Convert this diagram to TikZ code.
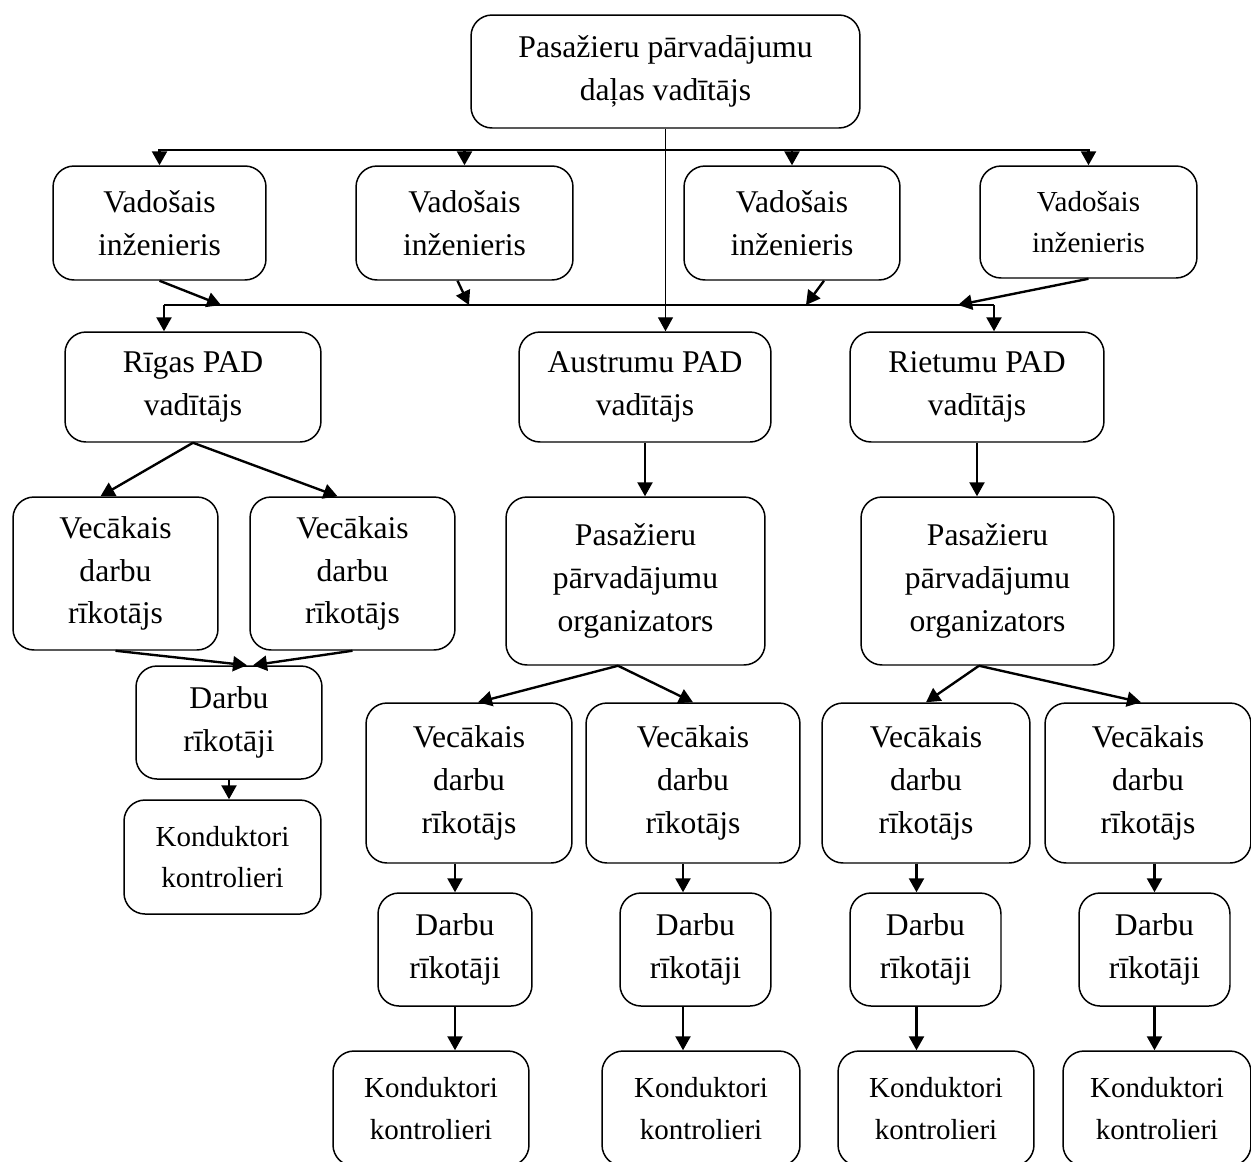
\documentclass[tikz,border=0pt]{standalone}
\usepackage{fontspec}
\setmainfont{Liberation Serif}
\usetikzlibrary{arrows.meta,positioning,calc}

\begin{document}
\begin{tikzpicture}[x=0.02cm,y=-0.02cm,
  every node/.style={draw,rounded corners=0.42cm,line width=0.85pt,align=center,inner sep=0pt,font=\fontsize{18}{24.4}\selectfont},
  smalltext/.style={font=\fontsize{16.5}{23.5}\selectfont},
  arr/.style={-{Triangle[length=0.28cm,width=0.3cm]},line width=1.35pt},
  thinarr/.style={arr,line width=0.8pt}]
  \path[use as bounding box] (0,0) rectangle (1251,1161);
  \clip (0,0) rectangle (1251,1161);
  % Head of the department
  \node[minimum width=7.78cm,minimum height=2.26cm] (head) at (665.5,71.5) {Pasažieru pārvadājumu\\daļas vadītājs};
  % Leading engineers
  \node[minimum width=4.26cm,minimum height=2.28cm] (eng1) at (159.5,223) {Vadošais\\inženieris};
  \node[minimum width=4.34cm,minimum height=2.28cm] (eng2) at (464.5,223) {Vadošais\\inženieris};
  \node[minimum width=4.32cm,minimum height=2.28cm] (eng3) at (792,223) {Vadošais\\inženieris};
  \node[smalltext,minimum width=4.34cm,minimum height=2.24cm] (eng4) at (1088.5,222) {Vadošais\\inženieris};
  % Regional heads
  \node[minimum width=5.12cm,minimum height=2.2cm] (riga) at (193,387) {Rīgas PAD\\vadītājs};
  \node[minimum width=5.04cm,minimum height=2.2cm] (east) at (645,387) {Austrumu PAD\\vadītājs};
  \node[minimum width=5.08cm,minimum height=2.2cm] (west) at (977,387) {Rietumu PAD\\vadītājs};
  % Riga branch
  \node[minimum width=4.1cm,minimum height=3.06cm] (rsen1) at (115.5,573.5) {Vecākais\\darbu\\rīkotājs};
  \node[minimum width=4.1cm,minimum height=3.06cm] (rsen2) at (352.5,573.5) {Vecākais\\darbu\\rīkotājs};
  \node[minimum width=3.72cm,minimum height=2.26cm] (rwork) at (229,722.5) {Darbu\\rīkotāji};
  \node[smalltext,minimum width=3.94cm,minimum height=2.28cm] (rcond) at (222.5,857) {Konduktori\\kontrolieri};
  % East and west organizers
  \node[minimum width=5.18cm,minimum height=3.36cm] (eorg) at (635.5,581) {Pasažieru\\pārvadājumu\\organizators};
  \node[minimum width=5.06cm,minimum height=3.36cm] (worg) at (987.5,581) {Pasažieru\\pārvadājumu\\organizators};
  % Senior work managers
  \node[minimum width=4.12cm,minimum height=3.2cm] (esen1) at (469,783) {Vecākais\\darbu\\rīkotājs};
  \node[minimum width=4.28cm,minimum height=3.2cm] (esen2) at (693,783) {Vecākais\\darbu\\rīkotājs};
  \node[minimum width=4.16cm,minimum height=3.2cm] (wsen1) at (926,783) {Vecākais\\darbu\\rīkotājs};
  \node[minimum width=4.12cm,minimum height=3.2cm] (wsen2) at (1148,783) {Vecākais\\darbu\\rīkotājs};
  % Work managers
  \node[minimum width=3.08cm,minimum height=2.26cm] (ework1) at (455,949.5) {Darbu\\rīkotāji};
  \node[minimum width=3.02cm,minimum height=2.26cm] (ework2) at (695.5,949.5) {Darbu\\rīkotāji};
  \node[minimum width=3.02cm,minimum height=2.26cm] (wwork1) at (925.5,949.5) {Darbu\\rīkotāji};
  \node[minimum width=3.02cm,minimum height=2.26cm] (wwork2) at (1154.5,949.5) {Darbu\\rīkotāji};
  % Conductors
  \node[smalltext,minimum width=3.92cm,minimum height=2.3cm] (econd1) at (431,1108.5) {Konduktori\\kontrolieri};
  \node[smalltext,minimum width=3.96cm,minimum height=2.3cm] (econd2) at (701,1108.5) {Konduktori\\kontrolieri};
  \node[smalltext,minimum width=3.92cm,minimum height=2.3cm] (wcond1) at (936,1108.5) {Konduktori\\kontrolieri};
  \node[smalltext,minimum width=3.76cm,minimum height=2.3cm] (wcond2) at (1157,1108.5) {Konduktori\\kontrolieri};

  % Bus lines
  \coordinate (bus1) at (665.5,150);
  \coordinate (bus2w) at (164,305);
  \coordinate (bus2e) at (994,305);
  \draw[thinarr] (head.south) -- (head.south |- east.north);
  \draw[arr] (bus1) -| (eng1.north);
  \draw[arr] (bus1) -| (eng4.north);
  \draw[arr] (eng2.north |- bus1) -- (eng2.north);
  \draw[arr] (eng3.north |- bus1) -- (eng3.north);
  \draw[line width=1.35pt] (bus2w) -- (bus2e);
  \draw[arr] (bus2w) -- (bus2w |- riga.north);
  \draw[arr] (bus2e) -- (bus2e |- west.north);
  % Engineers into the lower bus
  \coordinate (in1) at (221,305);
  \coordinate (in2) at (469,305);
  \coordinate (in3) at (806,305);
  \coordinate (in4) at (958,305);
  \draw[arr] (eng1.south) -- (in1);
  \draw[arr] ([xshift=-0.14cm]eng2.south) -- (in2);
  \draw[arr] ([xshift=0.64cm]eng3.south) -- (in3);
  \draw[arr] (eng4.south) -- (in4);
  % Riga branch
  \draw[arr] (riga.south) -- ([xshift=-0.3cm]rsen1.north);
  \draw[arr] (riga.south) -- ([xshift=-0.3cm]rsen2.north);
  \draw[arr] (rsen1.south) -- ([xshift=0.36cm]rwork.north);
  \draw[arr] (rsen2.south) -- ([xshift=0.48cm]rwork.north);
  \draw[arr] (rwork.south) -- (rwork.south |- rcond.north);
  % East branch
  \coordinate (etap) at ([xshift=-0.25cm]ework2.north);
  \draw[arr] (east.south) -- (east.south |- eorg.north);
  \draw[arr] ([xshift=-0.35cm]eorg.south) -- ([xshift=0.18cm]esen1.north);
  \draw[arr] ([xshift=-0.35cm]eorg.south) -- (esen2.north);
  \draw[arr] (ework1.north |- esen1.south) -- (ework1.north);
  \draw[arr] (etap |- esen2.south) -- (etap);
  \draw[arr] (ework1.south) -- (ework1.south |- econd1.north);
  \draw[arr] (etap |- ework2.south) -- (etap |- econd2.north);
  % West branch
  \coordinate (wtap) at ([xshift=-0.18cm]wwork1.north);
  \draw[arr] (west.south) -- (west.south |- worg.north);
  \draw[arr] ([xshift=-0.17cm]worg.south) -- (wsen1.north);
  \draw[arr] ([xshift=-0.17cm]worg.south) -- ([xshift=-0.14cm]wsen2.north);
  \draw[arr] (wtap |- wsen1.south) -- (wtap);
  \draw[arr] (wwork2.north |- wsen2.south) -- (wwork2.north);
  \draw[arr] (wtap |- wwork1.south) -- (wtap |- wcond1.north);
  \draw[arr] (wwork2.south) -- (wwork2.south |- wcond2.north);
\end{tikzpicture}
\end{document}
